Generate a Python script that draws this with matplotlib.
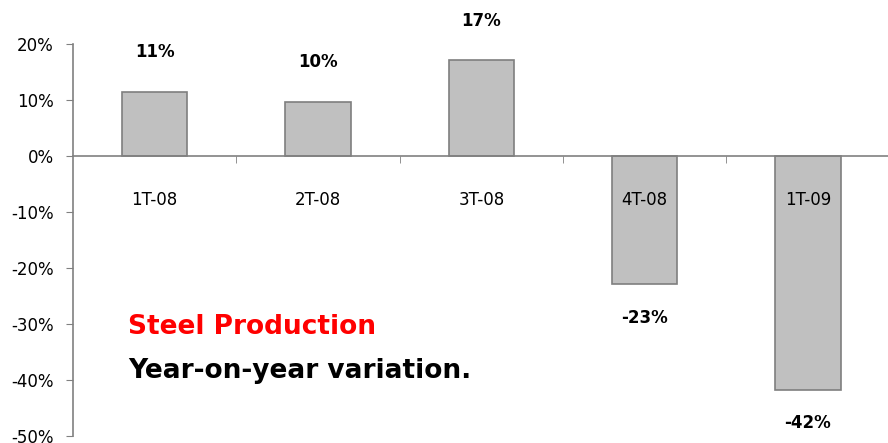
import matplotlib.pyplot as plt
from matplotlib.ticker import FixedLocator

# data
quarters = ["1T-08", "2T-08", "3T-08", "4T-08", "1T-09"]
yoy_change = [11.5, 9.7, 17.1, -22.9, -41.7]
labels = ["11%", "10%", "17%", "-23%", "-42%"]
yticks = [20, 10, 0, -10, -20, -30, -40, -50]

plt.rcParams['font.family'] = ['DejaVu Sans']

fig = plt.figure(figsize=(8.88, 4.43), dpi=100)
ax = fig.add_axes([73 / 888, 1 - 436 / 443, 1 - 73 / 888, 392 / 443])

x = list(range(len(quarters)))
ax.bar(x, yoy_change, width=0.4, color='#c0c0c0', edgecolor='#7f7f7f', linewidth=1.2, zorder=1)
ax.set_axisbelow(False)

# value labels above / below the bars
for i, v in enumerate(yoy_change):
    if v >= 0:
        ax.text(i, v + 7.0, labels[i], ha='center', va='center', fontsize=12, fontweight='bold')
    else:
        ax.text(i, v - 6.0, labels[i], ha='center', va='center', fontsize=12, fontweight='bold')

ax.set_xlim(-0.5, 4.49)
ax.set_ylim(-50, 20)

# axes styling
for s in ['top', 'right']:
    ax.spines[s].set_visible(False)
ax.spines['bottom'].set_position(('data', 0))
ax.spines['bottom'].set_color('#808080')
ax.spines['left'].set_color('#808080')
ax.spines['bottom'].set_linewidth(1.2)
ax.spines['left'].set_linewidth(1.2)

ax.set_yticks(yticks)
ax.set_yticklabels([f"{t}%" for t in yticks], fontsize=12)
ax.tick_params(axis='y', direction='out', length=5, color='#808080', pad=9)

ax.set_xticks(x)
ax.set_xticklabels(quarters, fontsize=12)
ax.tick_params(axis='x', which='major', length=0, pad=25)
ax.xaxis.set_minor_locator(FixedLocator([0.5, 1.5, 2.5, 3.5]))
ax.tick_params(axis='x', which='minor', direction='out', length=5, color='#808080')

# chart caption inside the plot
fig.text(128 / 888, 1 - 327 / 443, "Steel Production", color='red',
         fontsize=19, fontweight='bold', va='center', ha='left')
fig.text(128 / 888, 1 - 371 / 443, "Year-on-year variation.", color='black',
         fontsize=19, fontweight='bold', va='center', ha='left')

fig.savefig("out.png", dpi=100)
